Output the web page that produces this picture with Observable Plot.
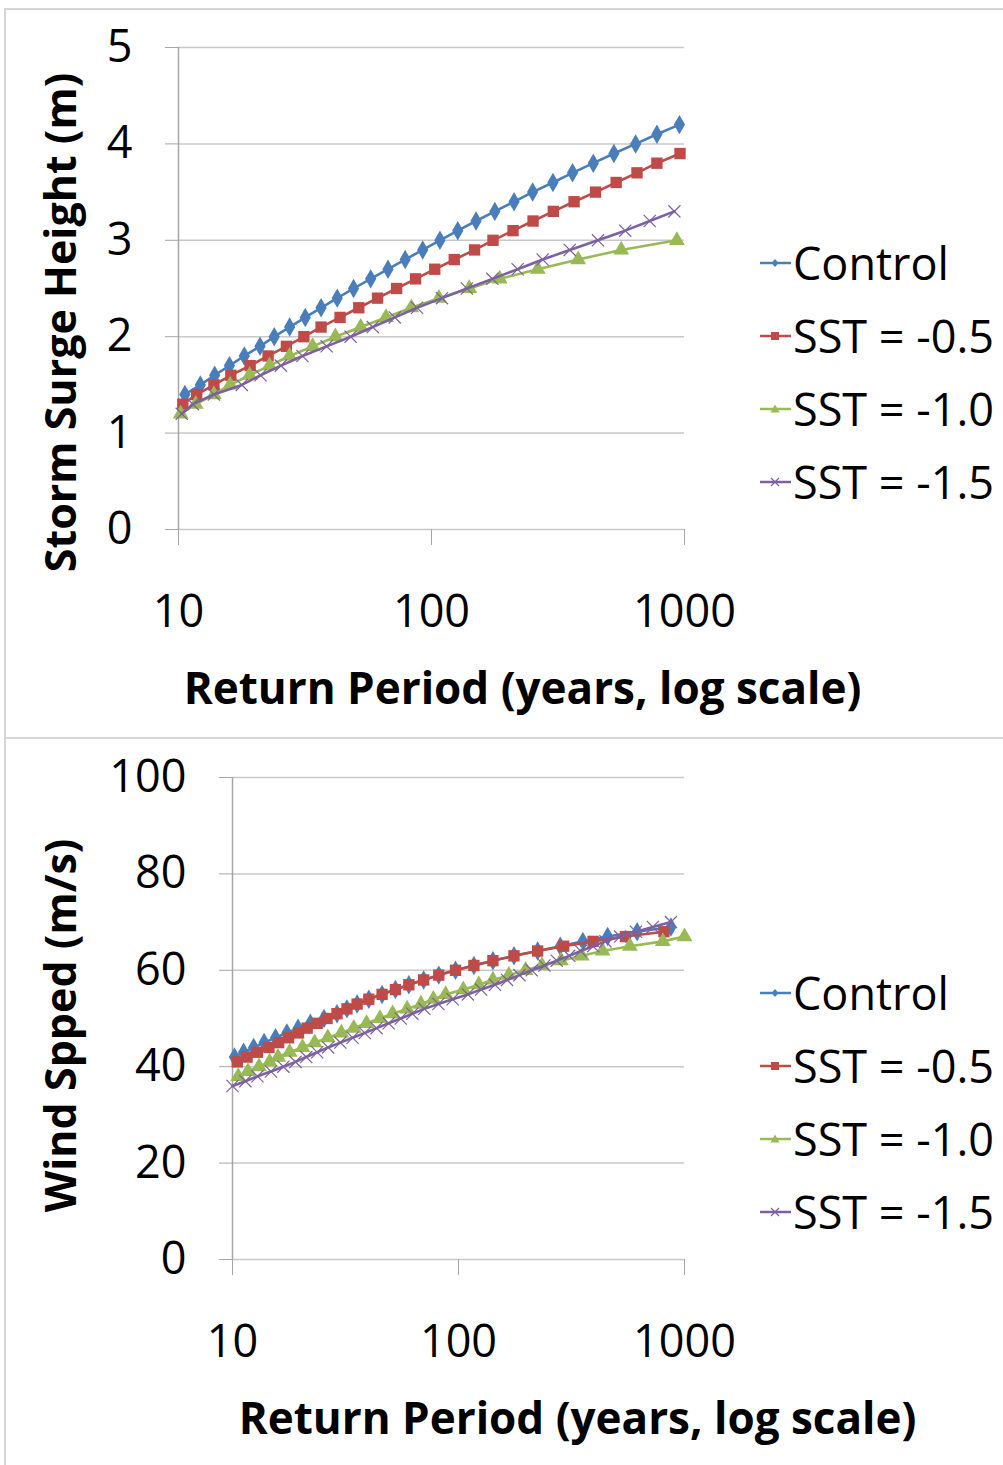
<!DOCTYPE html>
<html>
<head>
<meta charset="utf-8">
<script src="https://cdn.jsdelivr.net/npm/d3@7"></script>
<script src="https://cdn.jsdelivr.net/npm/@observablehq/plot@0.6"></script>
<style>
  body { margin: 0; background: #fff; font-family: "Open Sans", sans-serif; }
  #page { position: relative; width: 1003px; height: 1465px; overflow: hidden; background: #fff; }
  .panel { position: absolute; left: 4px; width: 1100px; border: 2px solid #d6d6d6; box-sizing: border-box; }
  .chart { position: absolute; left: 0; }
  .legend { position: absolute; left: 758px; font-size: 45px; color: #000; font-family: "Open Sans", sans-serif; }
  .item { display: flex; align-items: center; height: 73px; white-space: nowrap; }
</style>
</head>
<body>
<div id="page">
  <div class="panel" style="top:8px;height:731px;"></div>
  <div class="panel" style="top:737px;height:800px;"></div>
  <div class="chart" id="top" style="top:0px;"></div>
  <div class="chart" id="bottom" style="top:737px;"></div>
  <div class="legend" id="legTop" style="top:226px;"></div>
  <div class="legend" id="legBottom" style="top:956px;"></div>
</div>
<script>
// ---------- data ----------
const seriesNames = ["Control", "SST = -0.5", "SST = -1.0", "SST = -1.5"];
const seriesColors = ["#4a7ebb", "#be4b48", "#98b954", "#7d60a0"];
const seriesSymbols = ["diamond", "square", "triangle", "times"];

const xTicks = [10, 100, 1000];
const surgeTicks = [0, 1, 2, 3, 4, 5];
const windTicks = [0, 20, 40, 60, 80, 100];

const xTitle = "Return Period (years, log scale)";
const surgeTitle = "Storm Surge Height (m)";
const windTitle = "Wind Spped (m/s)";

// Storm surge: return period (years) and height (m)
const surgeControlT = [10.6,12.2,13.9,15.9,18.2,21.0,23.9,27.5,31.7,36.6,42.4,49.2,57.5,67.3,78.7,92.3,108,127,150,178,212,251,302,361,436,526,641,778,955];
const surgeControlH = [1.4,1.5,1.6,1.7,1.8,1.9,2.0,2.1,2.2,2.3,2.4,2.5,2.6,2.7,2.8,2.9,3.0,3.1,3.2,3.3,3.4,3.5,3.6,3.7,3.8,3.9,4.0,4.1,4.2];
const surgeSst05T = [10.4,11.8,13.8,16.1,19.2,22.6,26.7,31.3,36.6,43.5,51.6,61.2,72.8,86.5,103,123,148,175,210,252,303,366,445,537,649,778,960];
const surgeSst05H = [1.3,1.4,1.5,1.6,1.7,1.8,1.9,2.0,2.1,2.2,2.3,2.4,2.5,2.6,2.7,2.8,2.9,3.0,3.1,3.2,3.3,3.4,3.5,3.6,3.7,3.8,3.9];
const surgeSst10T = [10.2,11.7,13.8,16.0,19.1,22.9,27.5,33.9,41.7,52.5,66.1,83.2,107,141,186,263,380,562,933];
const surgeSst10H = [1.2,1.3,1.4,1.5,1.6,1.7,1.8,1.9,2.0,2.1,2.2,2.3,2.4,2.5,2.6,2.7,2.8,2.9,3.0];
const surgeSst15T = [10.3,11.4,13.8,17.8,21.1,25.4,30.9,38.5,47.9,58.6,71.6,87.7,110,138,174,219,275,352,455,583,729,912];
const surgeSst15H = [1.2,1.3,1.4,1.5,1.6,1.7,1.8,1.9,2.0,2.1,2.2,2.3,2.4,2.5,2.6,2.7,2.8,2.9,3.0,3.1,3.2,3.3];

// Wind speed: return period (years) and speed (m/s)
const windControlT = [10.2,11.2,12.4,13.8,15.5,17.4,19.5,22.1,25.4,29.0,32.1,35.6,40.1,45.9,52.6,60.3,70.1,81.8,97.0,117,142,176,224,282,355,457,617,871];
const windControlV = [42,43,44,45,46,47,48,49,50,51,52,53,54,55,56,57,58,59,60,61,62,63,64,65,66,67,68,69];
const windSst05T = [10.5,11.6,12.9,14.5,16.0,17.7,19.6,21.4,23.7,26.2,29.0,32.1,35.6,40.1,45.9,52.6,60.3,70.1,81.8,97.0,117,142,176,224,292,394,548,811];
const windSst05V = [41,42,43,44,45,46,47,48,49,50,51,52,53,54,55,56,57,58,59,60,61,62,63,64,65,66,67,68];
const windSst10T = [10.6,11.7,13.1,14.6,15.9,17.9,20.4,23.1,26.4,30.3,34.4,39.2,44.9,51.1,59.3,68.2,77.4,87.7,105,123,142,167,198,234,284,351,434,573,802,1000];
const windSst10V = [38,39,40,41,42,43,44,45,46,47,48,49,50,51,52,53,54,55,56,57,58,59,60,61,62,63,64,65,66,67];
const windSst15T = [10.0,11.4,12.9,14.8,16.8,19.0,21.2,23.7,26.5,30.0,34.0,38.5,43.4,49.1,55.5,62.5,70.6,81.5,94.2,110,126,145,164,186,211,240,272,309,347,394,447,519,610,724,871];
const windSst15V = [36,37,38,39,40,41,42,43,44,45,46,47,48,49,50,51,52,53,54,55,56,57,58,59,60,61,62,63,64,65,66,67,68,69,70];

// ---------- drawing ----------
function rows(T, V) { return T.map((t, j) => ({ t, v: V[j] })); }

function seriesMarks(seriesData) {
  const marks = [];
  seriesData.forEach((data, i) => {
    const color = seriesColors[i];
    const sym = seriesSymbols[i];
    marks.push(Plot.line(data, { x: "t", y: "v", stroke: color, strokeWidth: 2.6 }));
    if (sym === "times") {
      marks.push(Plot.dot(data, { x: "t", y: "v", symbol: sym, r: 5.6, stroke: color, fill: "none", strokeWidth: 1.2 }));
    } else {
      marks.push(Plot.dot(data, { x: "t", y: "v", symbol: sym, r: sym === "square" ? 6.4 : 5.9, fill: color, stroke: "none" }));
    }
  });
  return marks;
}

function makeChart(o) {
  const axisGray = "#a6a6a6";
  return Plot.plot({
    width: 740,
    height: o.height,
    marginLeft: o.marginLeft,
    marginRight: 56,
    marginTop: o.marginTop,
    marginBottom: o.marginBottom,
    style: { fontFamily: "Open Sans, sans-serif", fontSize: "44px", color: "#000", background: "transparent", overflow: "visible" },
    x: { type: "log", domain: [xTicks[0], xTicks[xTicks.length - 1]] },
    y: { domain: [o.yTicks[0], o.yTicks[o.yTicks.length - 1]] },
    marks: [
      Plot.gridY(o.yTicks, { stroke: "#c8c8c8", strokeOpacity: 1, strokeWidth: 1.5 }),
      Plot.axisY(o.yTicks, { tickSize: 13, tickPadding: 33, stroke: axisGray, label: null, tickFormat: d => String(d), fontSize: 45 }),
      Plot.ruleX([xTicks[0]], { y1: o.yTicks[0], y2: o.yTicks[o.yTicks.length - 1], stroke: axisGray, strokeWidth: 1.5 }),
      Plot.axisX(xTicks, { tickSize: 16, tickPadding: 50, stroke: axisGray, label: null, tickFormat: d => String(d), fontSize: 45 }),
      ...seriesMarks(o.series),
      Plot.text([xTitle], { frameAnchor: "bottom", textAnchor: "middle", dx: o.xTitleDx, dy: 174, fontWeight: "bold", fontSize: 44, fill: "#000" }),
      Plot.text([o.yTitle], { frameAnchor: "left", textAnchor: "middle", rotate: -90, dx: o.yTitleDx, dy: o.yTitleDy, fontWeight: "bold", fontSize: 43, fill: "#000" })
    ]
  });
}

const topChart = makeChart({
  height: 735, marginLeft: 178, marginTop: 47, marginBottom: 206,
  yTicks: surgeTicks, yTitle: surgeTitle,
  xTitleDx: 91, yTitleDx: -116, yTitleDy: 34,
  series: [rows(surgeControlT, surgeControlH), rows(surgeSst05T, surgeSst05H), rows(surgeSst10T, surgeSst10H), rows(surgeSst15T, surgeSst15H)]
});
document.getElementById("top").appendChild(topChart);

const bottomChart = makeChart({
  height: 728, marginLeft: 232, marginTop: 40, marginBottom: 206,
  yTicks: windTicks, yTitle: windTitle,
  xTitleDx: 119, yTitleDx: -170, yTitleDy: 7,
  series: [rows(windControlT, windControlV), rows(windSst05T, windSst05V), rows(windSst10T, windSst10V), rows(windSst15T, windSst15V)]
});
document.getElementById("bottom").appendChild(bottomChart);

// ---------- legends ----------
function legendSwatch(i) {
  const c = seriesColors[i], s = seriesSymbols[i];
  let m = "";
  if (s === "diamond") m = `<path d="M17,6 L20.5,10 L17,14 L13.5,10 Z" fill="${c}"/>`;
  else if (s === "square") m = `<rect x="13" y="6" width="8" height="8" fill="${c}"/>`;
  else if (s === "triangle") m = `<path d="M17,5.5 L21.5,13.5 L12.5,13.5 Z" fill="${c}"/>`;
  else m = `<path d="M13,6 L21,14 M21,6 L13,14" stroke="${c}" stroke-width="1.2"/>`;
  return `<svg width="35" height="20" viewBox="0 0 35 20"><line x1="2" y1="10" x2="33" y2="10" stroke="${c}" stroke-width="2.5"/>${m}</svg>`;
}
function buildLegend(id) {
  const el = document.getElementById(id);
  el.innerHTML = seriesNames.map((n, i) => `<div class="item">${legendSwatch(i)}<span>${n}</span></div>`).join("");
}
buildLegend("legTop");
buildLegend("legBottom");
</script>
</body>
</html>
